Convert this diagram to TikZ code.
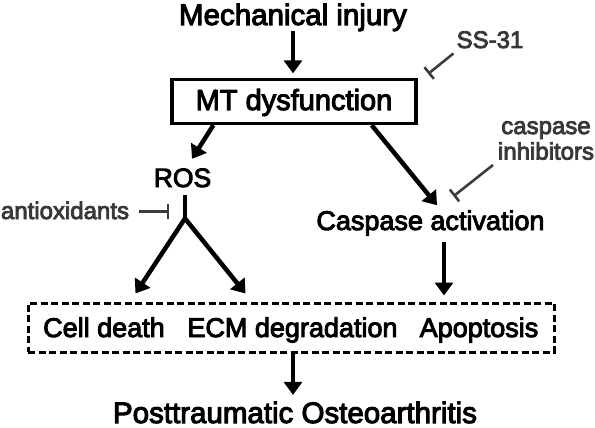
\documentclass[tikz,border=0pt]{standalone}
\usepackage{fontspec}
\setmainfont{Liberation Sans}[FakeBold=3.5]
\usetikzlibrary{arrows.meta,calc}
\definecolor{inhtext}{HTML}{383838}
\definecolor{inhline}{HTML}{3C3C3C}
\begin{document}
\begin{tikzpicture}[x=1pt,y=-1pt,
  arr/.tip={Triangle[length=13pt,width=18pt]},
  txt/.style={inner sep=0pt,anchor=base},
  act/.style={line width=4.5pt,-arr},
  inh/.style={line width=2.6pt,draw=inhline,-{Bar[width=15pt]}},
  inhlabel/.style={inner sep=0pt,text=inhtext,font=\fontsize{24}{25.5}\selectfont},
]
\useasboundingbox (0,0) rectangle (595,428);
% nodes
\node[txt,font=\fontsize{29.5}{30}\selectfont] (mech) at (293,25) {Mechanical injury};
\node[draw,line width=3.3pt,minimum width=244pt,minimum height=44pt,inner sep=0pt,
      text height=21pt,text depth=4pt,font=\fontsize{29}{30}\selectfont] (mt) at (294,101.5) {MT dysfunction};
\node[txt,font=\fontsize{26.5}{27}\selectfont] (ros) at (182.5,187) {ROS};
\node[txt,font=\fontsize{27}{28}\selectfont] (casp) at (430.5,230) {Caspase activation};
\node[inhlabel,anchor=base] (ss) at (490,48) {SS-31};
\node[inhlabel,anchor=south,align=center] (casinh) at (546,160) {caspase\\inhibitors};
\node[inhlabel,anchor=base] (antiox) at (65,219) {antioxidants};
\node[draw,line width=3pt,dash pattern=on 7pt off 3.5pt,minimum width=526pt,minimum height=49pt,inner sep=0pt] (outcomes) at (291,327.5) {};
\node[txt,font=\fontsize{27}{28}\selectfont] (cd) at (104,337) {Cell death};
\node[txt,font=\fontsize{27}{28}\selectfont] (ecm) at (292.5,337) {ECM degradation};
\node[txt,font=\fontsize{27}{28}\selectfont] (apo) at (479,337) {Apoptosis};
\node[txt,font=\fontsize{29.5}{30}\selectfont] (ptoa) at (295,423) {Posttraumatic Osteoarthritis};
% activating connectors
\draw[act,shorten >=4.5pt] (mech.south) -- (mech.south |- mt.north);
\draw[act] ($(mt.south west)+(43,0)$) -- ($(ros.north)+(9.5,-9.5)$);
\draw[act] ($(mt.south east)+(-46,0)$) -- ($(casp.north)+(6.5,-5)$);
\coordinate (c1) at ($(casp.south)+(13.5,6)$);
\draw[act,shorten >=6pt] (c1) -- (c1 |- outcomes.north);
\coordinate (rs) at ($(ros.south)+(2.5,8)$);
\coordinate (jn) at ($(rs)+(0,23)$);
\draw[line width=4.5pt] (rs) -- (jn);
\draw[line width=4.5pt,arr-arr] ($(outcomes.north west)+(109,-8)$) -- (jn) -- ($(outcomes.north west)+(219,-8)$);
\coordinate (o1) at ($(outcomes.south)+(2,0)$);
\draw[act,shorten >=6.5pt] (o1) -- (o1 |- ptoa.north);
% inhibitory connectors
\draw[inh] ($(ss.south west)+(-3,5)$) -- ($(mt.north east)+(10.5,-4)$);
\draw[inh] ($(casinh.south)+(-53,5)$) -- ($(casp.north)+(23,-14)$);
\draw[inh] ($(antiox.east)+(10,1)$) -- ($(antiox.east)+(40,1)$);
\end{tikzpicture}
\end{document}
